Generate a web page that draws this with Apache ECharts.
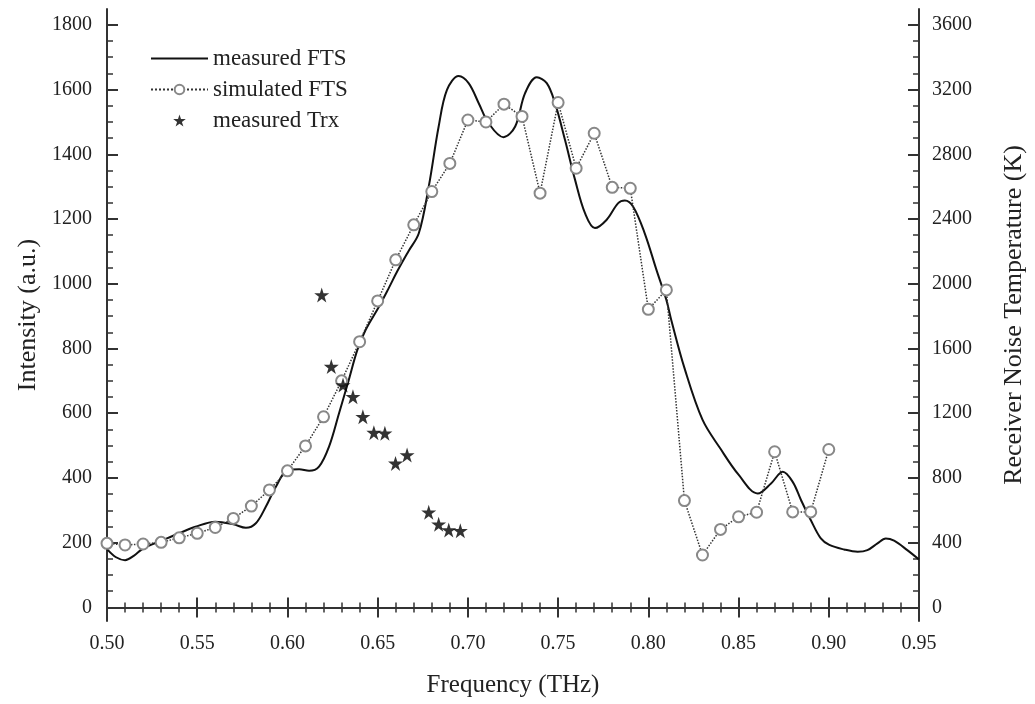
<!DOCTYPE html>
<html>
<head>
<meta charset="utf-8">
<script src="https://cdn.jsdelivr.net/npm/echarts@6/dist/echarts.min.js"></script>
<style>
html,body{margin:0;padding:0;background:#fff;}
#chart{width:1035px;height:704px;}
</style>
</head>
<body>
<div id="chart"></div>
<script>
// ---- data ----
const measFreq = [0.500,0.505,0.510,0.515,0.520,0.531,0.540,0.549,0.560,0.570,0.577,0.5825,0.588,0.5936,0.600,0.6065,0.612,0.6175,0.623,0.6286,0.634,0.6387,0.6433,0.6507,0.656,0.661,0.667,0.6728,0.6783,0.6838,0.6884,0.6949,0.7004,0.706,0.7115,0.7197,0.7262,0.7317,0.7382,0.7437,0.7483,0.7538,0.7594,0.7649,0.7704,0.7768,0.7833,0.787,0.7916,0.798,0.8045,0.810,0.8127,0.820,0.830,0.840,0.850,0.8606,0.868,0.8745,0.880,0.8846,0.890,0.8956,0.9003,0.9085,0.916,0.9214,0.927,0.9316,0.9362,0.9435,0.950];
const measVals = [180,155,146,160,182,208,229,249,265,257,246,260,311,373,424,427,422,435,496,600,703,795,857,929,985,1040,1100,1156,1300,1486,1599,1642,1620,1558,1496,1453,1486,1589,1638,1620,1558,1445,1321,1218,1172,1197,1249,1257,1238,1156,1043,950,888,740,580,490,410,352,383,419,388,332,270,213,193,179,172,177,198,213,206,177,148];

const simFreq = [0.50,0.51,0.52,0.53,0.54,0.55,0.56,0.57,0.58,0.59,0.60,0.61,0.62,0.63,0.64,0.65,0.66,0.67,0.68,0.69,0.70,0.71,0.72,0.73,0.74,0.75,0.76,0.77,0.78,0.79,0.80,0.81,0.82,0.83,0.84,0.85,0.86,0.87,0.88,0.89,0.90];
const simVals = [198,193,196,201,215,229,247,275,313,363,422,499,589,700,821,947,1074,1182,1285,1372,1506,1500,1555,1517,1280,1560,1357,1465,1298,1295,921,981,330,162,241,280,294,481,295,295,488];

const trxFreq = [0.619,0.6243,0.6308,0.6363,0.6418,0.6479,0.654,0.6599,0.6663,0.6783,0.6838,0.6894,0.6958];
const trxVals = [1930,1488,1374,1302,1178,1080,1076,890,942,588,514,478,474];

const leftMajor = [0,200,400,600,800,1000,1200,1400,1600,1800];
const rightMajor = [0,400,800,1200,1600,2000,2400,2800,3200,3600];
const leftMinor = [0,50,100,150,200,250,300,350,400,450,500,550,600,650,700,750,800,850,900,950,1000,1050,1100,1150,1200,1250,1300,1350,1400,1450,1500,1550,1600,1650,1700,1750,1800,1850];
const rightMinor = [0,100,200,300,400,500,600,700,800,900,1000,1100,1200,1300,1400,1500,1600,1700,1800,1900,2000,2100,2200,2300,2400,2500,2600,2700,2800,2900,3000,3100,3200,3300,3400,3500,3600,3700];

const pair = (xs, ys) => xs.map((x, i) => [x, ys[i]]);

const FONT = '"Liberation Serif", "DejaVu Serif", serif';
const AX = '#333';
const STAR = 'path://M50,0 L61.2,34.5 L97.6,34.5 L68.2,55.9 L79.4,90.5 L50,69.1 L20.6,90.5 L31.8,55.9 L2.4,34.5 L38.8,34.5 Z';
const axisLine = { show: true, lineStyle: { color: AX, width: 2 } };
const plain = v => String(v);

const chart = echarts.init(document.getElementById('chart'), null, { renderer: 'canvas' });
chart.setOption({
  animation: false,
  backgroundColor: '#fff',
  textStyle: { fontFamily: FONT },
  grid: { left: 107, right: 113, top: 9, bottom: 83, containLabel: false },
  legend: {
    orient: 'vertical', left: 145, top: 42,
    itemWidth: 57, itemHeight: 12, itemGap: 8,
    textStyle: { fontFamily: FONT, fontSize: 23, color: '#222', lineHeight: 22 },
    data: [
      { name: 'measured FTS', itemStyle: { opacity: 0 } },
      { name: 'simulated FTS' },
      { name: 'measured Trx' }
    ]
  },
  xAxis: [
    {
      type: 'value', position: 'bottom', min: 0.5, max: 0.95, interval: 0.05,
      name: 'Frequency (THz)', nameLocation: 'middle', nameGap: 52,
      nameTextStyle: { fontFamily: FONT, fontSize: 25, color: '#222' },
      axisLine: axisLine,
      axisTick: { inside: true, length: 10, lineStyle: { color: AX, width: 2 } },
      minorTick: { show: true, splitNumber: 5, length: 5, lineStyle: { color: AX, width: 1.5 } },
      axisLabel: { margin: 13, fontFamily: FONT, fontSize: 20, color: '#222', formatter: v => v.toFixed(2) },
      splitLine: { show: false }
    },
    {
      type: 'value', position: 'top', min: 0.5, max: 0.95, interval: 0.05,
      axisLine: axisLine,
      axisTick: { inside: true, length: 10, lineStyle: { color: AX, width: 2 } },
      minorTick: { show: true, splitNumber: 5, length: 5, lineStyle: { color: AX, width: 1.5 } },
      axisLabel: { show: false }, splitLine: { show: false }
    }
  ],
  yAxis: [
    {
      type: 'value', position: 'left', min: -42, max: 1849,
      name: 'Intensity (a.u.)', nameLocation: 'middle', nameGap: 66,
      nameTextStyle: { fontFamily: FONT, fontSize: 26, color: '#222' },
      axisLine: axisLine,
      axisTick: { inside: true, length: 11, customValues: leftMajor, lineStyle: { color: AX, width: 2 } },
      axisLabel: { margin: 15, fontFamily: FONT, fontSize: 20, color: '#222', customValues: leftMajor, formatter: plain },
      splitLine: { show: false }
    },
    {
      type: 'value', position: 'left', min: -42, max: 1849,
      axisLine: { show: false },
      axisTick: { inside: true, length: 6, customValues: leftMinor, lineStyle: { color: AX, width: 1.5 } },
      axisLabel: { show: false }, splitLine: { show: false }
    },
    {
      type: 'value', position: 'right', min: -84, max: 3698,
      name: 'Receiver Noise Temperature (K)', nameLocation: 'middle', nameGap: 82,
      nameTextStyle: { fontFamily: FONT, fontSize: 26, color: '#222' },
      axisLine: axisLine,
      axisTick: { inside: true, length: 11, customValues: rightMajor, lineStyle: { color: AX, width: 2 } },
      axisLabel: { margin: 13, fontFamily: FONT, fontSize: 20, color: '#222', customValues: rightMajor, formatter: plain },
      splitLine: { show: false }
    },
    {
      type: 'value', position: 'right', min: -84, max: 3698,
      axisLine: { show: false },
      axisTick: { inside: true, length: 6, customValues: rightMinor, lineStyle: { color: AX, width: 1.5 } },
      axisLabel: { show: false }, splitLine: { show: false }
    }
  ],
  series: [
    {
      name: 'measured FTS', type: 'line', xAxisIndex: 0, yAxisIndex: 0,
      data: pair(measFreq, measVals), smooth: 0.35, showSymbol: false, symbol: 'none',
      lineStyle: { color: '#111', width: 2 }, itemStyle: { color: '#111' }, z: 3
    },
    {
      name: 'simulated FTS', type: 'line', xAxisIndex: 0, yAxisIndex: 0,
      data: pair(simFreq, simVals), symbol: 'emptyCircle', symbolSize: 11, showAllSymbol: true,
      lineStyle: { color: '#333', width: 1.5, type: 'dotted' },
      itemStyle: { color: '#888', borderColor: '#888', borderWidth: 1.3 }, z: 4
    },
    {
      name: 'measured Trx', type: 'scatter', xAxisIndex: 0, yAxisIndex: 2,
      data: pair(trxFreq, trxVals), symbol: STAR, symbolSize: 15,
      itemStyle: { color: '#000' }, z: 5
    }
  ]
});
</script>
</body>
</html>
